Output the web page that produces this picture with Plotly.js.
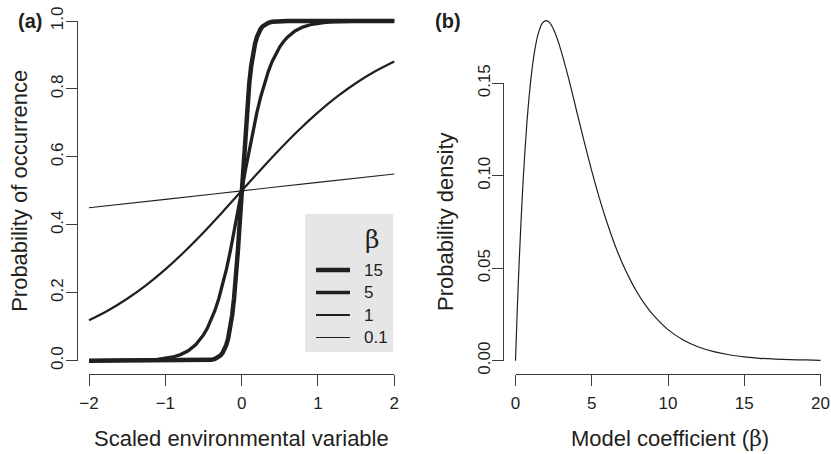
<!DOCTYPE html>
<html>
<head>
<meta charset="utf-8">
<script src="https://cdn.plot.ly/plotly-3.0.1.min.js"></script>
<style>html,body{margin:0;padding:0;background:#fff;}#chart{width:831px;height:454px;}</style>
</head>
<body>
<div id="chart"></div>
<script>
// ---------- Data ----------
// Panel (a): logistic responses for four coefficients
const betaLabels = ["15", "5", "1", "0.1"];

const xBeta15 = [-2, -1, -0.6, -0.5, -0.45, -0.4, -0.35, -0.3, -0.275, -0.25, -0.225, -0.2, -0.175, -0.15, -0.125, -0.1, -0.075, -0.05, -0.025, 0,
                 0.025, 0.05, 0.075, 0.1, 0.125, 0.15, 0.175, 0.2, 0.225, 0.25, 0.275, 0.3, 0.35, 0.4, 0.45, 0.5, 0.6, 1, 2];
const yBeta15 = [0, 0, 0.0001, 0.0006, 0.0012, 0.0025, 0.0052, 0.0110, 0.0159, 0.0230, 0.0331, 0.0474, 0.0676, 0.0953, 0.1330, 0.1824, 0.2451, 0.3208, 0.4073, 0.5,
                 0.5927, 0.6792, 0.7549, 0.8176, 0.8670, 0.9047, 0.9324, 0.9526, 0.9669, 0.9770, 0.9841, 0.9890, 0.9948, 0.9975, 0.9988, 0.9994, 0.9999, 1, 1];

const xBeta5 = [-2, -1.6, -1.4, -1.2, -1.1, -1.0, -0.9, -0.8, -0.7, -0.6, -0.55, -0.5, -0.45, -0.4, -0.35, -0.3, -0.25, -0.2, -0.15, -0.1, -0.05, 0,
                0.05, 0.1, 0.15, 0.2, 0.25, 0.3, 0.35, 0.4, 0.45, 0.5, 0.55, 0.6, 0.7, 0.8, 0.9, 1.0, 1.1, 1.2, 1.4, 1.6, 2];
const yBeta5 = [0.0000, 0.0003, 0.0009, 0.0025, 0.0041, 0.0067, 0.0110, 0.0180, 0.0293, 0.0474, 0.0601, 0.0759, 0.0953, 0.1192, 0.1480, 0.1824, 0.2227, 0.2689, 0.3208, 0.3775, 0.4378, 0.5,
                0.5622, 0.6225, 0.6792, 0.7311, 0.7773, 0.8176, 0.8520, 0.8808, 0.9047, 0.9241, 0.9399, 0.9526, 0.9707, 0.9820, 0.9890, 0.9933, 0.9959, 0.9975, 0.9991, 0.9997, 1.0000];

const xBeta1 = [-2, -1.75, -1.5, -1.25, -1, -0.75, -0.5, -0.25, 0, 0.25, 0.5, 0.75, 1, 1.25, 1.5, 1.75, 2];
const yBeta1 = [0.1192, 0.1480, 0.1824, 0.2227, 0.2689, 0.3208, 0.3775, 0.4378, 0.5, 0.5622, 0.6225, 0.6792, 0.7311, 0.7773, 0.8176, 0.8520, 0.8808];

const xBeta01 = [-2, -1, 0, 1, 2];
const yBeta01 = [0.4502, 0.4750, 0.5, 0.5250, 0.5498];

// Panel (b): probability density of the model coefficient
const xCoef = [0, 0.1, 0.25, 0.5, 0.75, 1, 1.25, 1.5, 1.75, 2, 2.25, 2.5, 2.75, 3, 3.5, 4, 4.5, 5, 5.5, 6, 6.5, 7, 7.5, 8, 8.5, 9, 10, 11, 12, 13, 14, 15, 16, 17, 18, 19, 20];
const yDensity = [0, 0.0238, 0.0552, 0.0974, 0.1289, 0.1516, 0.1673, 0.1771, 0.1824, 0.1839, 0.1827, 0.1791, 0.1738, 0.1673, 0.1521, 0.1353, 0.1186, 0.1026, 0.0879, 0.0747, 0.0630, 0.0528, 0.0441, 0.0366, 0.0303, 0.0250, 0.0168, 0.0112, 0.0074, 0.0049, 0.0032, 0.0021, 0.0013, 0.0009, 0.0006, 0.0004, 0.0002];

// Axis ticks
const xTicksA = [-2, -1, 0, 1, 2];
const yTicksA = [0, 0.2, 0.4, 0.6, 0.8, 1.0];
const xTicksB = [0, 5, 10, 15, 20];
const yTicksB = [0, 0.05, 0.10, 0.15];
const xRangeA = [-2, 2], yRangeA = [0, 1];
const xRangeB = [0, 20], yRangeB = [0, 0.15];

// ---------- Layout geometry (pixels) ----------
const W = 831, H = 454;
const fx = p => p / W;
const fy = p => 1 - p / H;
const INK = '#231f20';
const AXC = '#3c3c3c';
const FONT = 'Liberation Sans, Arial, Helvetica, sans-serif';
const SERIF = 'DejaVu Serif, Liberation Serif, serif';

// panel a pixel frame (tick range)
const A = {x0: 89, x1: 394.3, y0: 360.7, y1: 21, xAxisY: 373.5, yAxisX: 76.7};
// panel b pixel frame
const B = {x0: 515.5, x1: 820.5, y0: 360.7, y1: 83.3, xAxisY: 373.5, yAxisX: 503.3};

function padded(p0, p1, r, padLo, padHi) {
  const s = (r[1] - r[0]) / (p1 - p0);
  return {pLo: p0 - padLo, pHi: p1 + padHi, rLo: r[0] - padLo * s, rHi: r[1] + padHi * s};
}

const axA_x = padded(A.x0, A.x1, xRangeA, 12, 12);
const axA_y = padded(-A.y0, -A.y1, yRangeA, 12, 12);
const axB_x = padded(B.x0, B.x1, xRangeB, 12, 9);
const axB_y = padded(-B.y0, -B.y1, yRangeB, 12, 76);

const hidden = {visible: false, fixedrange: true, showgrid: false, zeroline: false};

function dispX(frame, range, ticks, fmt) {
  return {domain: [fx(frame.x0), fx(frame.x1)], range: range, anchor: 'free', position: fy(frame.xAxisY),
    showline: true, linecolor: AXC, linewidth: 1, ticks: 'outside', ticklen: 11, tickwidth: 1, tickcolor: AXC,
    tickmode: 'array', tickvals: ticks, tickformat: fmt, showgrid: false, zeroline: false, fixedrange: true,
    tickfont: {family: FONT, size: 17, color: INK}, ticklabelstandoff: 3};
}
function dispY(frame, range, ticks, fmt) {
  return {domain: [fy(frame.y0), fy(frame.y1)], range: range, anchor: 'free', position: fx(frame.yAxisX),
    showline: true, linecolor: AXC, linewidth: 1, ticks: 'outside', ticklen: 11, tickwidth: 1, tickcolor: AXC,
    tickmode: 'array', tickvals: ticks, tickformat: fmt, tickangle: -90, showgrid: false, zeroline: false, fixedrange: true,
    tickfont: {family: FONT, size: 17, color: INK}, ticklabelstandoff: -4};
}

const widths = [4.5, 3.3, 2.2, 1.1];
const series = [[xBeta15, yBeta15], [xBeta5, yBeta5], [xBeta1, yBeta1], [xBeta01, yBeta01]];

const traces = series.map((s, i) => ({
  x: s[0], y: s[1], type: 'scatter', mode: 'lines', name: betaLabels[i], xaxis: 'x', yaxis: 'y',
  line: {color: INK, width: widths[i], shape: i >= 2 ? 'spline' : 'linear'}, showlegend: false, hoverinfo: 'x+y'
}));
traces.push({x: xCoef, y: yDensity, type: 'scatter', mode: 'lines', name: 'density', xaxis: 'x2', yaxis: 'y2',
  line: {color: INK, width: 1.2, shape: 'spline', smoothing: 0.8}, showlegend: false, hoverinfo: 'x+y'});
// helper (invisible) traces so the display axes are drawn
traces.push({x: xRangeA, y: yRangeA, type: 'scatter', mode: 'lines', xaxis: 'x3', yaxis: 'y3', opacity: 0, hoverinfo: 'skip', showlegend: false});
traces.push({x: xRangeB, y: yRangeB, type: 'scatter', mode: 'lines', xaxis: 'x4', yaxis: 'y4', opacity: 0, hoverinfo: 'skip', showlegend: false});

// Legend drawn as shapes + text
const leg = {x0: 305, x1: 393, y0: 214, y1: 352, lx0: 316, lx1: 350, rows: [270, 292.5, 315, 337.5], tx: 362, betaX: 372, betaY: 239};
const shapes = [{type: 'rect', xref: 'paper', yref: 'paper', x0: fx(leg.x0), x1: fx(leg.x1), y0: fy(leg.y1), y1: fy(leg.y0),
  fillcolor: '#e6e6e6', line: {width: 0}, layer: 'below'}];
const annotations = [];
leg.rows.forEach((r, i) => {
  shapes.push({type: 'line', xref: 'paper', yref: 'paper', x0: fx(leg.lx0), x1: fx(leg.lx1), y0: fy(r), y1: fy(r),
    line: {color: INK, width: widths[i]}});
  annotations.push({xref: 'paper', yref: 'paper', x: fx(leg.tx), y: fy(r), xanchor: 'left', yanchor: 'middle', showarrow: false,
    text: betaLabels[i], font: {family: FONT, size: 17, color: INK}});
});
annotations.push({xref: 'paper', yref: 'paper', x: fx(leg.betaX), y: fy(leg.betaY), xanchor: 'center', yanchor: 'middle', showarrow: false,
  text: 'β', font: {family: SERIF, size: 25, color: INK}});

// titles
const titleFont = {family: FONT, size: 22, color: INK};
annotations.push({xref: 'paper', yref: 'paper', x: fx((A.x0 + A.x1) / 2), y: fy(438), xanchor: 'center', yanchor: 'middle', showarrow: false,
  text: 'Scaled environmental variable', font: titleFont});
annotations.push({xref: 'paper', yref: 'paper', x: fx(670), y: fy(438), xanchor: 'center', yanchor: 'middle', showarrow: false,
  text: 'Model coefficient (<span style="font-family:' + SERIF + '">β</span>)', font: titleFont});
annotations.push({xref: 'paper', yref: 'paper', x: fx(20), y: fy((A.y0 + A.y1) / 2), xanchor: 'center', yanchor: 'middle', showarrow: false,
  textangle: -90, text: 'Probability of occurrence', font: titleFont});
annotations.push({xref: 'paper', yref: 'paper', x: fx(445), y: fy((B.y0 + B.y1) / 2), xanchor: 'center', yanchor: 'middle', showarrow: false,
  textangle: -90, text: 'Probability density', font: titleFont});
annotations.push({xref: 'paper', yref: 'paper', x: fx(30), y: fy(21), xanchor: 'center', yanchor: 'middle', showarrow: false,
  text: '<b>(a)</b>', font: {family: FONT, size: 20, color: INK}});
annotations.push({xref: 'paper', yref: 'paper', x: fx(448), y: fy(21), xanchor: 'center', yanchor: 'middle', showarrow: false,
  text: '<b>(b)</b>', font: {family: FONT, size: 20, color: INK}});

const layout = {
  width: W, height: H, margin: {l: 0, r: 0, t: 0, b: 0}, paper_bgcolor: '#fff', plot_bgcolor: 'rgba(0,0,0,0)',
  showlegend: false, font: {family: FONT, color: INK},
  xaxis: Object.assign({}, hidden, {domain: [fx(axA_x.pLo), fx(axA_x.pHi)], range: [axA_x.rLo, axA_x.rHi], anchor: 'y'}),
  yaxis: Object.assign({}, hidden, {domain: [fy(-axA_y.pLo), fy(-axA_y.pHi)], range: [axA_y.rLo, axA_y.rHi], anchor: 'x'}),
  xaxis2: Object.assign({}, hidden, {domain: [fx(axB_x.pLo), fx(axB_x.pHi)], range: [axB_x.rLo, axB_x.rHi], anchor: 'y2'}),
  yaxis2: Object.assign({}, hidden, {domain: [fy(-axB_y.pLo), fy(-axB_y.pHi)], range: [axB_y.rLo, axB_y.rHi], anchor: 'x2'}),
  xaxis3: dispX(A, xRangeA, xTicksA, 'd'),
  yaxis3: dispY(A, yRangeA, yTicksA, '.1f'),
  xaxis4: dispX(B, xRangeB, xTicksB, 'd'),
  yaxis4: dispY(B, yRangeB, yTicksB, '.2f'),
  shapes: shapes, annotations: annotations
};

Plotly.newPlot('chart', traces, layout, {displayModeBar: false, staticPlot: true});
</script>
</body>
</html>
